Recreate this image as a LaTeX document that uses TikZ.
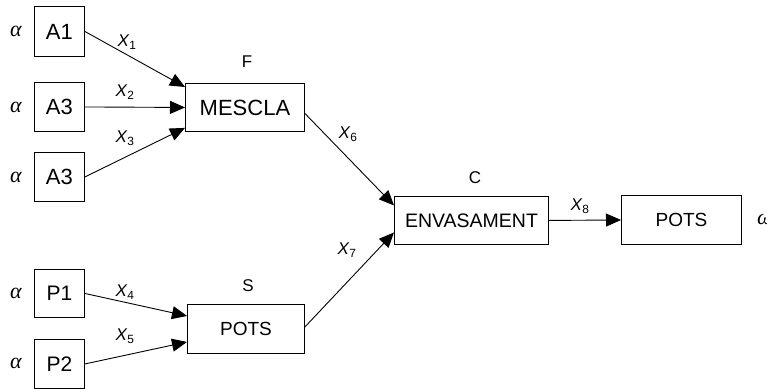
\documentclass[tikz,border=0pt]{standalone}
\usepackage{fontspec}
\setmainfont{Liberation Sans}
\newfontfamily\grkfont{Liberation Serif}
\usetikzlibrary{arrows.meta}
\begin{document}
\begin{tikzpicture}[x=1pt,y=-1pt,
  box/.style={draw,line width=0.9pt,inner sep=0pt,anchor=north west},
  conn/.style={line width=0.9pt,-{Triangle[length=15pt,width=13pt]}},
  lab/.style={font=\fontsize{17}{17}\selectfont,inner sep=0pt},
  xl/.style={font=\fontsize{17}{17}\selectfont,inner sep=0pt},
  al/.style={font=\grkfont\itshape\fontsize{22}{22}\selectfont,inner sep=0pt}]
\useasboundingbox (0,0) rectangle (767,388);
% boxes
\node[box,minimum width=50pt,minimum height=50pt,font=\fontsize{22}{22}\selectfont] (a1) at (34,6) {A1};
\node[box,minimum width=50pt,minimum height=49pt,font=\fontsize{22}{22}\selectfont] (a2) at (34,82) {A3};
\node[box,minimum width=50pt,minimum height=49pt,font=\fontsize{22}{22}\selectfont] (a3) at (34,152) {A3};
\node[box,minimum width=119pt,minimum height=48pt,font=\fontsize{22}{22}\selectfont] (m) at (185,83) {MESCLA};
\node[box,minimum width=50pt,minimum height=48pt,font=\fontsize{21}{21}\selectfont] (p1) at (34,269) {P1};
\node[box,minimum width=50pt,minimum height=49pt,font=\fontsize{21}{21}\selectfont] (p2) at (34,339) {P2};
\node[box,minimum width=117pt,minimum height=49pt,font=\fontsize{19}{19}\selectfont] (s) at (187,304) {POTS};
\node[box,minimum width=154pt,minimum height=48pt,font=\fontsize{19.5}{19.5}\selectfont] (e) at (394,196) {ENVASAMENT};
\node[box,minimum width=120pt,minimum height=49pt,font=\fontsize{19}{19}\selectfont] (o) at (621,195) {POTS};
% titles
\node[lab] (lf) at (247,62) {F};
\node[lab] (ls) at (248,286) {S};
\node[lab] (lc) at (475,178) {C};
% alpha / omega
\node[al] (al1) at (16,31) {α};
\node[al] (al2) at (16,107) {α};
\node[al] (al3) at (16,177) {α};
\node[al] (al4) at (16,293) {α};
\node[al] (al5) at (16,363) {α};
\node[al,anchor=west] (om) at (757,219) {ω};
% anchors for connectors
\coordinate (m1) at ([yshift=-4pt]m.north west);
\coordinate (m2) at (m.west);
\coordinate (m3) at ([yshift=4pt]m.south west);
\coordinate (mo) at ([yshift=-6pt]m.east);
\coordinate (s1) at ([yshift=13pt]s.west);
\coordinate (s2) at ([yshift=-13pt]s.west);
\coordinate (so) at ([yshift=2pt]s.east);
\coordinate (e1) at ([yshift=15pt]e.west);
\coordinate (e2) at ([yshift=-12pt]e.west);
% connectors
\draw[conn] (a1.east) -- (m1);
\draw[conn] (a2.east) -- (m2);
\draw[conn] (a3.east) -- (m3);
\draw[conn] (p1.east) -- (s1);
\draw[conn] (p2.east) -- (s2);
\draw[conn] (mo) -- (e1);
\draw[conn] (so) -- (e2);
\draw[conn] (e.east) -- (o.west);
% flow labels
\node[xl] (x1) at (127,42) {\textit{X}\textsubscript{1}};
\node[xl] (x2) at (125,92) {\textit{X}\textsubscript{2}};
\node[xl] (x3) at (125,138) {\textit{X}\textsubscript{3}};
\node[xl] (x4) at (125,292) {\textit{X}\textsubscript{4}};
\node[xl] (x5) at (125,336) {\textit{X}\textsubscript{5}};
\node[xl] (x6) at (348,134) {\textit{X}\textsubscript{6}};
\node[xl] (x7) at (347,250) {\textit{X}\textsubscript{7}};
\node[xl] (x8) at (580,206) {\textit{X}\textsubscript{8}};
\end{tikzpicture}
\end{document}
